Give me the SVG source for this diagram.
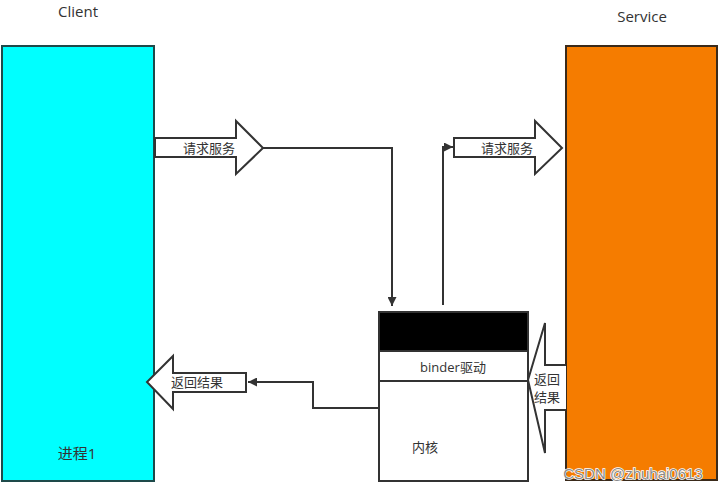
<svg xmlns="http://www.w3.org/2000/svg" width="722" height="489" viewBox="0 0 722 489">
<style>
text{font-family:"Open Sans","Noto Sans CJK SC",sans-serif;fill:#333;}
.lbl{font-size:13px;text-anchor:middle;dominant-baseline:central;}
.big{font-size:15px;text-anchor:middle;dominant-baseline:central;}
.arr{fill:#fff;stroke:#333;stroke-width:2;}
.con{fill:none;stroke:#333;stroke-width:2;}
</style>
<defs>
<marker id="ah" viewBox="0 0 10 10" refX="10" refY="5" markerWidth="9" markerHeight="9" orient="auto" markerUnits="userSpaceOnUse">
<path d="M0,0 L10,5 L0,10 Z" fill="#333"/>
</marker>
</defs>
<rect width="722" height="489" fill="#fff"/>
<g id="client">
<rect x="2" y="46" width="152" height="435" fill="#00ffff" stroke="#1e4a4a" stroke-width="2"/>
<text class="big" x="78" y="11">Client</text>
<text class="big" x="77" y="453">进程1</text>
</g>
<g id="service">
<rect x="566" y="46" width="151" height="434" fill="#f57c00" stroke="#3a2a1a" stroke-width="2"/>
<text class="big" x="642" y="16">Service</text>
</g>
<g id="binder">
<rect x="379" y="312" width="149" height="169" fill="#fff" stroke="#333" stroke-width="2"/>
<rect x="379" y="312" width="149" height="39" fill="#000" stroke="#333" stroke-width="2"/>
<line x1="379" y1="381" x2="528" y2="381" stroke="#333" stroke-width="2"/>
<text class="lbl" x="453" y="367">binder驱动</text>
<text class="lbl" x="425" y="447">内核</text>
</g>
<g id="req1">
<path class="arr" d="M155,138 H236 V121 L263,148 L236,174 V157 H155 Z"/>
<text class="lbl" x="209" y="148">请求服务</text>
</g>
<g id="req2">
<path class="arr" d="M454,138 H535 V121 L562,148 L535,174 V157 H454 Z"/>
<text class="lbl" x="507" y="148">请求服务</text>
</g>
<g id="ret1">
<path class="arr" d="M246,373 H173 V356 L147,382 L173,409 V392 H246 Z"/>
<text class="lbl" x="197" y="382">返回结果</text>
</g>
<g id="ret2">
<path class="arr" d="M566,365 H545 V323 L528,380 L545,453 V410 H566"/>
<text class="lbl" x="547" y="379">返回</text>
<text class="lbl" x="547" y="397">结果</text>
</g>
<g id="connectors">
<path class="con" d="M263,148 H392 V306" marker-end="url(#ah)"/>
<path class="con" d="M443,305 V147 H453" marker-end="url(#ah)"/>
<path class="con" d="M379,408 H313 V382 H248" marker-end="url(#ah)"/>
</g>
<text x="633" y="473" font-size="15" text-anchor="middle" dominant-baseline="central" style="fill:#8a8a8a;font-family:'Liberation Sans',Arial,sans-serif;paint-order:stroke;stroke:#fff;stroke-width:1.5">CSDN @zhuhai0613</text>
</svg>
